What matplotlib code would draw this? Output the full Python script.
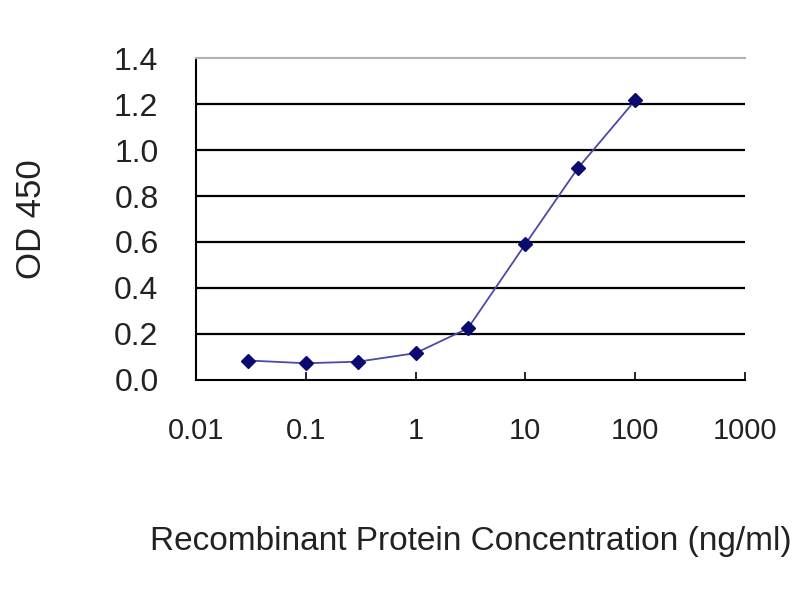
import matplotlib
matplotlib.use('Agg')
import matplotlib.pyplot as plt

plt.rcParams['font.family'] = ['Liberation Sans', 'DejaVu Sans']

# concentration (ng/ml) and OD450 readings
conc = [0.03, 0.1, 0.3, 1, 3, 10, 30, 100]
od450 = [0.084, 0.072, 0.079, 0.116, 0.224, 0.59, 0.92, 1.216]

xticks = [0.01, 0.1, 1, 10, 100, 1000]
xtick_labels = ['0.01', '0.1', '1', '10', '100', '1000']
yticks = [0.0, 0.2, 0.4, 0.6, 0.8, 1.0, 1.2, 1.4]

fig = plt.figure(figsize=(8, 6), dpi=100)
ax = fig.add_axes([0.245, 0.367, 0.686, 0.536])

# horizontal grid lines
for y in yticks[1:-1]:
    ax.axhline(y, color='black', linewidth=1.6, zorder=1)

ax.plot(conc, od450, color='#4a4aa8', linewidth=1.3, zorder=2)
ax.plot(conc, od450, linestyle='none', marker='D', markersize=7,
        color='#0a0a70', zorder=3)

ax.set_xscale('log')
ax.set_xlim(0.01, 1000)
ax.set_ylim(0, 1.4)
ax.set_xticks(xticks)
ax.set_xticklabels(xtick_labels)
ax.minorticks_off()
ax.set_yticks(yticks)
ax.set_yticklabels(['%.1f' % v for v in yticks])

ax.spines['right'].set_visible(False)
ax.spines['top'].set_color('#b0b0b0')
ax.spines['top'].set_linewidth(1.5)
ax.spines['left'].set_linewidth(1.5)
ax.spines['bottom'].set_linewidth(1.5)

ax.tick_params(axis='both', direction='in', length=6, width=1.2,
               labelcolor='#222222')
ax.tick_params(axis='x', pad=27, labelsize=21)
ax.tick_params(axis='y', pad=27, labelsize=23)

ax.set_ylabel('OD 450', fontsize=25, color='#222222')
ax.yaxis.set_label_coords(-0.27, 0.50)
ax.set_xlabel('Recombinant Protein Concentration (ng/ml)', fontsize=24,
              color='#222222')
ax.xaxis.set_label_coords(0.50, -0.455)

fig.savefig('out.png', dpi=100)
